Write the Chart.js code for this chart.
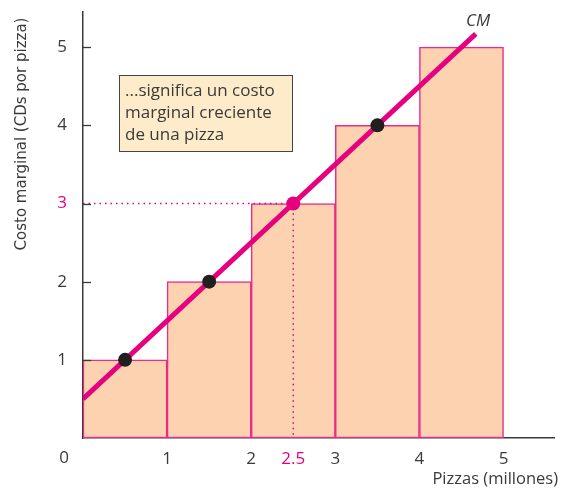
<!DOCTYPE html>
<html>
<head>
<meta charset="utf-8">
<script src="https://cdn.jsdelivr.net/npm/chart.js@4.4.1/dist/chart.umd.min.js"></script>
<style>
  html, body { margin: 0; padding: 0; background: #fff; }
</style>
</head>
<body>
<canvas id="c" width="561" height="489"></canvas>
<script>
// === Datos del gráfico
const pizzas = [0.5, 1.5, 2.5, 3.5, 4.5];          // centro de cada barra (millones)
const marginalCost = [1, 2, 3, 4, 5];              // CDs por pizza
const cmLine = [{ x: 0, y: 0.5 }, { x: 4.67, y: 5.17 }];
const dots = [{ x: 0.5, y: 1 }, { x: 1.5, y: 2 }, { x: 3.5, y: 4 }];
const highlight = [{ x: 2.5, y: 3 }];
const xTicks = [1, 2, 2.5, 3, 4, 5];
const yTicks = [1, 2, 3, 4, 5];

const MAGENTA = "#e6007e";
const INK = "#3a3a3a";
const FONT = "'Open Sans', sans-serif";

// === Textos y detalles dibujados a mano
const extras = {
  id: "extras",
  afterDraw(chart) {
    const { ctx, scales: { x, y } } = chart;
    ctx.save();
    // marcas del eje y hacia dentro
    ctx.strokeStyle = INK;
    ctx.lineWidth = 1.3;
    yTicks.forEach(v => {
      const py = Math.round(y.getPixelForValue(v)) + 0.5;
      ctx.beginPath();
      ctx.moveTo(x.left, py);
      ctx.lineTo(x.left + 8, py);
      ctx.stroke();
    });
    // "0" del origen
    ctx.fillStyle = INK;
    ctx.font = "17px " + FONT;
    ctx.textAlign = "center";
    ctx.textBaseline = "middle";
    ctx.fillText("0", x.left - 19, 458);
    // título eje x
    ctx.font = "16.5px " + FONT;
    ctx.textAlign = "right";
    ctx.fillText("Pizzas (millones)", 558, 479);
    // título eje y
    ctx.save();
    ctx.translate(22, 134);
    ctx.rotate(-Math.PI / 2);
    ctx.textAlign = "center";
    ctx.font = "15px 'DejaVu Sans', sans-serif";
    ctx.fillText("Costo marginal (CDs por pizza)", 0, 0);
    ctx.restore();
    // etiqueta CM
    ctx.font = "italic 17px " + FONT;
    ctx.textAlign = "center";
    ctx.fillText("CM", 478, 21);
    // cuadro de texto
    ctx.fillStyle = "#fdebc9";
    ctx.strokeStyle = "#444";
    ctx.lineWidth = 1;
    ctx.fillRect(119.5, 75.5, 173, 76);
    ctx.strokeRect(119.5, 75.5, 173, 76);
    ctx.fillStyle = INK;
    ctx.font = "17px " + FONT;
    ctx.textAlign = "left";
    ctx.fillText("...significa un costo", 125, 91);
    ctx.fillText("marginal creciente", 125, 113);
    ctx.fillText("de una pizza", 125, 135);
    ctx.restore();
  }
};

new Chart(document.getElementById("c"), {
  data: {
    datasets: [
      {
        type: "scatter",
        data: dots,
        pointRadius: 7,
        pointBackgroundColor: "#231f20",
        pointBorderWidth: 0,
        order: 0
      },
      {
        type: "scatter",
        data: highlight,
        pointRadius: 7,
        pointBackgroundColor: MAGENTA,
        pointBorderWidth: 0,
        order: 0
      },
      {
        type: "line",
        data: cmLine,
        borderColor: MAGENTA,
        borderWidth: 5,
        pointRadius: 0,
        order: 1
      },
      {
        type: "line",
        data: [{ x: 0, y: highlight[0].y }, highlight[0], { x: highlight[0].x, y: 0 }],
        borderColor: MAGENTA,
        borderWidth: 1.5,
        borderDash: [1.5, 4],
        pointRadius: 0,
        order: 2
      },
      {
        type: "bar",
        data: pizzas.map((p, i) => ({ x: p, y: marginalCost[i] })),
        backgroundColor: "#fcd2b0",
        borderColor: "#ea2b8a",
        borderWidth: 1.5,
        borderSkipped: false,
        // cada barra ocupa una unidad completa del eje x
        barThickness: ctx => {
          const sx = ctx.chart.scales.x;
          return sx ? sx.getPixelForValue(1) - sx.getPixelForValue(0) : 80;
        },
        order: 3
      }
    ]
  },
  options: {
    responsive: false,
    animation: false,
    events: [],
    layout: { padding: { top: 12, right: 6, left: 0, bottom: 0 } },
    plugins: { legend: { display: false }, tooltip: { enabled: false } },
    scales: {
      x: {
        type: "linear",
        offset: false,
        min: 0,
        max: 5.6,
        afterFit: s => { s.height = 51; s.paddingLeft = 0; s.paddingRight = 0; },
        afterBuildTicks: s => { s.ticks = xTicks.map(v => ({ value: v })); },
        grid: { display: false, drawTicks: false },
        border: { display: true, color: INK, width: 1.5 },
        ticks: {
          padding: 11,
          autoSkip: false,
          maxRotation: 0,
          font: { family: FONT, size: 17 },
          color: c => (c.tick.value === 2.5 ? MAGENTA : INK),
          callback: v => String(v)
        }
      },
      y: {
        min: 0,
        max: 5.45,
        afterFit: s => { s.width = 83; s.paddingTop = 0; s.paddingBottom = 0; },
        afterBuildTicks: s => { s.ticks = yTicks.map(v => ({ value: v })); },
        grid: { display: false, drawTicks: false },
        border: { display: true, color: INK, width: 1.5 },
        ticks: {
          padding: 16,
          font: { family: FONT, size: 17 },
          color: c => (c.tick.value === 3 ? MAGENTA : INK)
        }
      }
    }
  },
  plugins: [extras]
});
</script>
</body>
</html>
